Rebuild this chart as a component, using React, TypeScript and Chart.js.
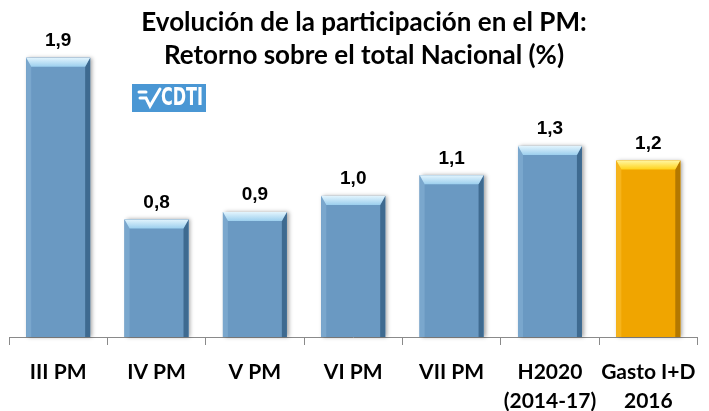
import React, { useEffect, useRef } from "react";
import { Chart, registerables } from "chart.js";

Chart.register(...registerables);

const categories: (string | string[])[] = [
  "III PM",
  "IV PM",
  "V PM",
  "VI PM",
  "VII PM",
  ["H2020", "(2014-17)"],
  ["Gasto I+D", "2016"],
];
const values = [1.9, 0.8, 0.85, 0.96, 1.1, 1.3, 1.2];
const valueLabels = ["1,9", "0,8", "0,9", "1,0", "1,1", "1,3", "1,2"];
const titleLines = ["Evolución de la participación en el PM:", "Retorno sobre el total Nacional (%)"];
const logoText = "CDTI";

const BLUE = "#6a99c2";
const ORANGE = "#f0a500";
const barColors = values.map((_, i) => (i === values.length - 1 ? ORANGE : BLUE));

const bevelPalette: Record<string, { top1: string; top2: string; left: string; right: string }> = {
  [BLUE]: { top1: "#e2f4fd", top2: "#9ccfee", left: "#7aa7cd", right: "#3e6a90" },
  [ORANGE]: { top1: "#fff6a0", top2: "#ffd21a", left: "#f6b41c", right: "#b37800" },
};

const shadowPlugin = {
  id: "barShadow",
  beforeDatasetsDraw(chart: any) {
    const ctx = chart.ctx;
    const meta = chart.getDatasetMeta(0);
    ctx.save();
    meta.data.forEach((bar: any, i: number) => {
      const { x, y, base, width } = bar.getProps(["x", "y", "base", "width"], true);
      ctx.shadowColor = "rgba(0,0,0,0.35)";
      ctx.shadowBlur = 4;
      ctx.shadowOffsetX = 2;
      ctx.shadowOffsetY = 0;
      ctx.fillStyle = barColors[i];
      ctx.fillRect(x - width / 2, y, width, base - y);
    });
    ctx.restore();
  },
};

const bevelPlugin = {
  id: "bevel",
  afterDatasetsDraw(chart: any) {
    const ctx = chart.ctx;
    const meta = chart.getDatasetMeta(0);
    ctx.save();
    meta.data.forEach((bar: any, i: number) => {
      const { x, y, base, width } = bar.getProps(["x", "y", "base", "width"], true);
      const pal = bevelPalette[barColors[i]];
      const l = x - width / 2;
      const r = x + width / 2;
      const b = 9;
      const s = 5;
      ctx.fillStyle = pal.left;
      ctx.beginPath();
      ctx.moveTo(l, y);
      ctx.lineTo(l + s, y + b);
      ctx.lineTo(l + s, base);
      ctx.lineTo(l, base);
      ctx.closePath();
      ctx.fill();
      ctx.fillStyle = pal.right;
      ctx.beginPath();
      ctx.moveTo(r, y);
      ctx.lineTo(r, base);
      ctx.lineTo(r - s, base);
      ctx.lineTo(r - s, y + b);
      ctx.closePath();
      ctx.fill();
      const g = ctx.createLinearGradient(0, y, 0, y + b);
      g.addColorStop(0, pal.top1);
      g.addColorStop(1, pal.top2);
      ctx.fillStyle = g;
      ctx.beginPath();
      ctx.moveTo(l, y);
      ctx.lineTo(r, y);
      ctx.lineTo(r - s, y + b);
      ctx.lineTo(l + s, y + b);
      ctx.closePath();
      ctx.fill();
      ctx.fillStyle = "#000";
      ctx.font = "bold 19px Arial, 'Liberation Sans', sans-serif";
      ctx.textAlign = "center";
      ctx.textBaseline = "middle";
      ctx.fillText(valueLabels[i], x, y - 17);
    });
    ctx.restore();
  },
};

const titlePlugin = {
  id: "customTitle",
  afterDraw(chart: any) {
    const ctx = chart.ctx;
    ctx.save();
    ctx.fillStyle = "#000";
    ctx.font = "bold 26px Lato, 'Open Sans', sans-serif";
    ctx.textAlign = "center";
    ctx.textBaseline = "middle";
    ctx.fillText(titleLines[0], 364, 23);
    ctx.fillText(titleLines[1], 364, 56);
    // logo
    ctx.fillStyle = "#4a97d4";
    ctx.fillRect(132, 84, 74, 28);
    ctx.strokeStyle = "#fff";
    ctx.lineWidth = 3;
    ctx.lineCap = "round";
    ctx.beginPath();
    ctx.moveTo(139, 92);
    ctx.lineTo(146, 92);
    ctx.stroke();
    ctx.beginPath();
    ctx.moveTo(140, 98);
    ctx.lineTo(146, 98);
    ctx.lineTo(150, 106);
    ctx.lineTo(160, 89);
    ctx.stroke();
    ctx.fillStyle = "#fff";
    ctx.font = "bold 24px 'DejaVu Sans Condensed', 'Liberation Sans', sans-serif";
    ctx.textAlign = "left";
    ctx.textBaseline = "middle";
    ctx.fillText(logoText, 161, 99, 42);
    ctx.restore();
  },
};

export default function App() {
  const ref = useRef<HTMLCanvasElement | null>(null);
  useEffect(() => {
    if (!ref.current) return;
    const chart = new Chart(ref.current, {
      type: "bar",
      data: {
        labels: categories,
        datasets: [
          {
            data: values,
            backgroundColor: barColors,
            borderWidth: 0,
            barPercentage: 0.65,
            categoryPercentage: 1,
          },
        ],
      },
      options: {
        animation: false,
        responsive: false,
        layout: { padding: { left: 9, right: 7, top: 43, bottom: 0 } },
        plugins: { legend: { display: false }, tooltip: { enabled: false }, title: { display: false } },
        scales: {
          y: { display: false, min: 0, max: 2 },
          x: {
            afterFit(scale: any) {
              scale.height = 74;
            },
            border: { display: true, color: "#8a8a8a", width: 1 },
            grid: { drawOnChartArea: false, drawTicks: true, tickLength: 8, offset: true, color: "#8a8a8a" },
            ticks: {
              color: "#000",
              padding: 13,
              maxRotation: 0,
              autoSkip: false,
              font: { family: "Lato, 'Open Sans', sans-serif", weight: "bold", size: 21, lineHeight: 1.38 },
            },
          },
        },
      },
      plugins: [shadowPlugin, bevelPlugin, titlePlugin],
    } as any);
    return () => chart.destroy();
  }, []);
  return (
    <div style={{ position: "absolute", left: 0, top: 0, width: 709, height: 411, background: "#fff" }}>
      <canvas ref={ref} width={709} height={411} style={{ display: "block" }} />
    </div>
  );
}
